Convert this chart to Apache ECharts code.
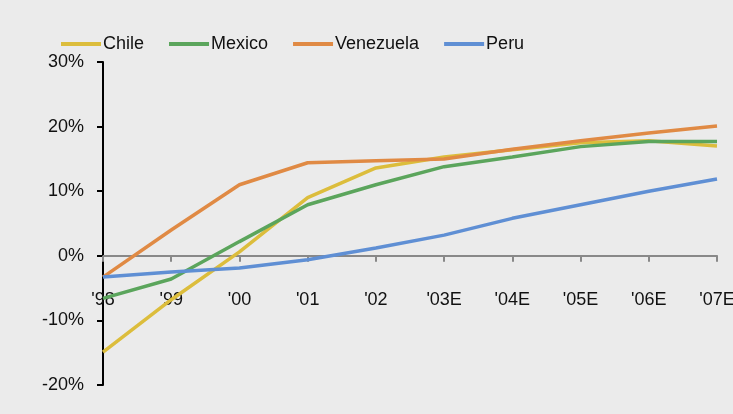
<!DOCTYPE html>
<html>
<head>
<meta charset="utf-8">
<script src="https://cdn.jsdelivr.net/npm/echarts@6/dist/echarts.min.js"></script>
<style>
html, body { margin: 0; padding: 0; background: #ebebeb; }
#main { width: 733px; height: 414px; }
</style>
</head>
<body>
<div id="main"></div>
<script>
// categories and series (%)
const years = ["'98", "'99", "'00", "'01", "'02", "'03E", "'04E", "'05E", "'06E", "'07E"];
const chile = [-14.9, -6.8, 0.6, 9.0, 13.6, 15.3, 16.4, 17.5, 17.8, 17.0];
const mexico = [-6.6, -3.6, 2.2, 7.9, 11.0, 13.8, 15.3, 16.9, 17.7, 17.7];
const venezuela = [-3.3, 4.0, 11.0, 14.4, 14.7, 15.0, 16.5, 17.8, 19.0, 20.1];
const peru = [-3.3, -2.5, -1.9, -0.6, 1.2, 3.2, 5.8, 7.9, 10.0, 11.9];

const font = 'Liberation Sans';

function line(name, data, color) {
    return {
        name: name,
        type: 'line',
        data: data,
        symbol: 'none',
        lineStyle: { color: color, width: 3.5 },
        itemStyle: { color: color }
    };
}

const myChart = echarts.init(document.getElementById('main'));
myChart.setOption({
    backgroundColor: '#ebebeb',
    animation: false,
    textStyle: { fontFamily: font },
    legend: {
        top: 35,
        left: 61,
        padding: 0,
        icon: 'rect',
        itemWidth: 40,
        itemHeight: 4,
        itemGap: 25,
        textStyle: { fontFamily: font, fontSize: 18, color: '#111', padding: [0, 0, 0, -3] },
        data: ['Chile', 'Mexico', 'Venezuela', 'Peru']
    },
    grid: { left: 103, right: 16, top: 62, bottom: 29, containLabel: false, outerBoundsMode: 'none' },
    xAxis: [{
        type: 'category',
        data: years,
        boundaryGap: false,
        axisLine: { onZero: true, lineStyle: { color: '#888', width: 2 } },
        axisTick: { show: true, alignWithLabel: true, length: 6, lineStyle: { color: '#888', width: 2 } },
        axisLabel: { show: false }
    }, {
        // labels sit a fixed distance under the zero line
        type: 'category',
        data: years,
        boundaryGap: false,
        position: 'bottom',
        offset: -129,
        axisLine: { show: false },
        axisTick: { show: false },
        axisLabel: { margin: 35, fontSize: 18, color: '#111', fontFamily: font, interval: 0 }
    }],
    yAxis: {
        type: 'value',
        min: -20,
        max: 30,
        interval: 10,
        splitLine: { show: false },
        axisLine: { show: true, onZero: false, lineStyle: { color: '#000', width: 2 } },
        axisTick: { show: true, length: 6, lineStyle: { color: '#000', width: 2 } },
        axisLabel: { formatter: '{value}%', fontSize: 18, color: '#111', fontFamily: font, margin: 19 }
    },
    series: [
        line('Chile', chile, '#dcbd3c'),
        line('Mexico', mexico, '#5ba55c'),
        line('Venezuela', venezuela, '#e08a44'),
        line('Peru', peru, '#5f8fd4')
    ]
});
</script>
</body>
</html>
